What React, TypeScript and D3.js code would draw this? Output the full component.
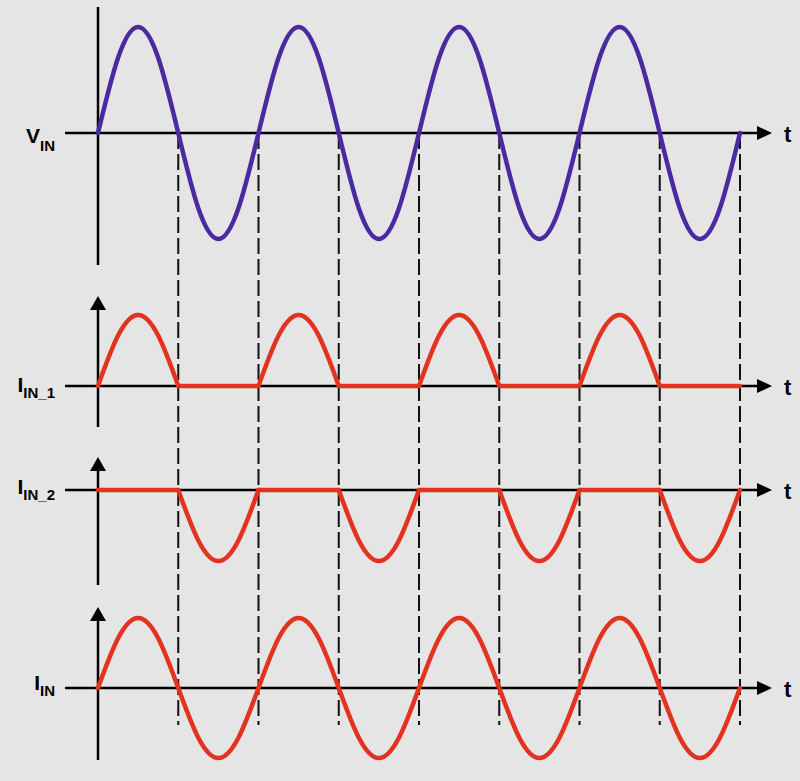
import { useRef, useEffect } from 'react'
import * as d3 from 'd3'

// signal samples at every 1/8 period, 4 periods
const vIn = [
  0, 0.71, 1, 0.71, 0, -0.71, -1, -0.71,
  0, 0.71, 1, 0.71, 0, -0.71, -1, -0.71,
  0, 0.71, 1, 0.71, 0, -0.71, -1, -0.71,
  0, 0.71, 1, 0.71, 0, -0.71, -1, -0.71, 0,
]
const iIn1 = [
  0, 0.71, 1, 0.71, 0, 0, 0, 0,
  0, 0.71, 1, 0.71, 0, 0, 0, 0,
  0, 0.71, 1, 0.71, 0, 0, 0, 0,
  0, 0.71, 1, 0.71, 0, 0, 0, 0, 0,
]
const iIn2 = [
  0, 0, 0, 0, 0, -0.71, -1, -0.71,
  0, 0, 0, 0, 0, -0.71, -1, -0.71,
  0, 0, 0, 0, 0, -0.71, -1, -0.71,
  0, 0, 0, 0, 0, -0.71, -1, -0.71, 0,
]
const iIn = [
  0, 0.71, 1, 0.71, 0, -0.71, -1, -0.71,
  0, 0.71, 1, 0.71, 0, -0.71, -1, -0.71,
  0, 0.71, 1, 0.71, 0, -0.71, -1, -0.71,
  0, 0.71, 1, 0.71, 0, -0.71, -1, -0.71, 0,
]
const labels = ['V', 'I', 'I', 'I']
const subLabels = ['IN', 'IN_1', 'IN_2', 'IN']
const zeroCrossings = [1, 2, 3, 4, 5, 6, 7, 8] // in half periods

const width = 800
const height = 781
const purple = '#4a2aa0'
const red = '#e3321f'

const panels = [
  { data: vIn, color: purple, axisY: 133, amp: 106, top: 7, bottom: 265, arrow: false, lab: 10, sub: 18 },
  { data: iIn1, color: red, axisY: 386, amp: 71, top: 296, bottom: 427, arrow: true, lab: 6, sub: 12 },
  { data: iIn2, color: red, axisY: 490, amp: 71, top: 457, bottom: 585, arrow: true, lab: 4, sub: 10 },
  { data: iIn, color: red, axisY: 688, amp: 70, top: 607, bottom: 760, arrow: true, lab: 2, sub: 8 },
]

export default function App() {
  const ref = useRef<SVGSVGElement>(null)

  useEffect(() => {
    if (!ref.current) return
    const svg = d3.select(ref.current)
    svg.selectAll('*').remove()

    svg.append('rect').attr('width', width).attr('height', height).attr('fill', '#e5e5e5')

    const x0 = 98
    const x = d3.scaleLinear().domain([0, 32]).range([x0, 740])
    const xHalf = d3.scaleLinear().domain([0, 8]).range([x0, 740])

    // dashed guides
    svg
      .append('g')
      .selectAll('line')
      .data(zeroCrossings)
      .enter()
      .append('line')
      .attr('x1', (d) => xHalf(d))
      .attr('x2', (d) => xHalf(d))
      .attr('y1', 133)
      .attr('y2', 725)
      .attr('stroke', '#111')
      .attr('stroke-width', 2)
      .attr('stroke-dasharray', '16,5')

    const font = '"Liberation Sans", Arial, Helvetica, sans-serif'

    panels.forEach((p, i) => {
      const y = d3.scaleLinear().domain([-1, 1]).range([p.axisY + p.amp, p.axisY - p.amp])
      const g = svg.append('g')

      // horizontal axis
      g.append('line')
        .attr('x1', 65).attr('x2', 760)
        .attr('y1', p.axisY).attr('y2', p.axisY)
        .attr('stroke', '#000').attr('stroke-width', 2.5)
      g.append('path')
        .attr('d', `M772,${p.axisY} L757,${p.axisY - 7} L757,${p.axisY + 7} Z`)
        .attr('fill', '#000')
      g.append('text')
        .attr('x', 784).attr('y', p.axisY + 9)
        .attr('font-family', font).attr('font-weight', 'bold').attr('font-size', 22)
        .text('t')

      // vertical axis
      g.append('line')
        .attr('x1', x0).attr('x2', x0)
        .attr('y1', p.arrow ? p.top + 10 : p.top).attr('y2', p.bottom)
        .attr('stroke', '#000').attr('stroke-width', 2.5)
      if (p.arrow) {
        g.append('path')
          .attr('d', `M${x0},${p.top} L${x0 - 8},${p.top + 14} L${x0 + 8},${p.top + 14} Z`)
          .attr('fill', '#000')
      }

      // label
      const t = g.append('text')
        .attr('x', 55).attr('y', p.axisY + p.lab)
        .attr('text-anchor', 'end')
        .attr('font-family', font).attr('font-weight', 'bold')
      t.append('tspan').attr('font-size', 21).text(labels[i])
      t.append('tspan').attr('font-size', 15).attr('dy', p.sub - p.lab).text(subLabels[i])

      // signal, one half period at a time
      const line = d3
        .line<number>()
        .x((_, j) => 0)
        .y((d) => y(d))
        .curve(d3.curveNatural)
      let pathD = ''
      for (let h = 0; h < 8; h++) {
        const seg = p.data.slice(h * 4, h * 4 + 5)
        const segLine = line.x((_, j) => x(h * 4 + j))
        pathD += segLine(seg)
      }
      g.append('path')
        .attr('d', pathD)
        .attr('fill', 'none')
        .attr('stroke', p.color)
        .attr('stroke-width', 4.5)
        .attr('stroke-linecap', 'round')
        .attr('stroke-linejoin', 'round')
    })
  }, [])

  return (
    <svg
      ref={ref}
      width={width}
      height={height}
      style={{ position: 'absolute', left: 0, top: 0, display: 'block' }}
    />
  )
}
